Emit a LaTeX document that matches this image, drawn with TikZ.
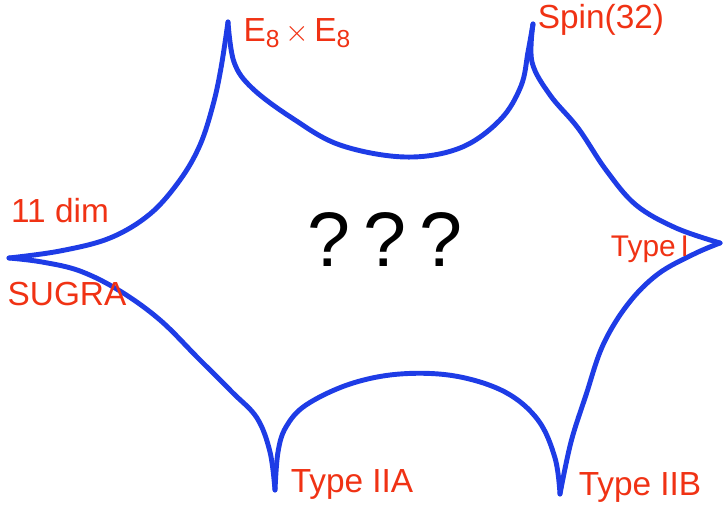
\documentclass[tikz,border=0pt]{standalone}
\usepackage{fontspec}
\setmainfont{Liberation Sans}
\usepackage{tikz}
\usetikzlibrary{positioning}

\definecolor{edgeblue}{RGB}{30,60,230}
\definecolor{labelred}{RGB}{240,50,20}

\newcommand{\eightsub}{{\fontsize{14}{14}\selectfont\raisebox{-0.45ex}{8}}}

\tikzset{
  edge/.style={draw=edgeblue, line width=2.8pt, line cap=round, line join=round},
  limit/.style={text=labelred, font=\fontsize{19}{22}\selectfont, inner sep=0pt},
}

\begin{document}
\begin{tikzpicture}[x=0.02cm, y=-0.02cm]
\useasboundingbox (0,0) rectangle (724,510);

% 1. The six cusps
\coordinate (EE) at (228,22);
\coordinate (SO) at (533,24);
\coordinate (TI) at (720,243);
\coordinate (IIB) at (560,494);
\coordinate (IIA) at (275,490);
\coordinate (M) at (9,258);

% 2. The concave edges between them
\draw[edge] plot[smooth, tension=0.6] coordinates {(EE) (234,62) (252,88) (292,118) (340,145) (405,157) (460,148) (500,120) (521,86) (528,52) (SO)};
\draw[edge] plot[smooth, tension=0.6] coordinates {(SO) (532,62) (550,95) (578,128) (606,170) (636,205) (676,228) (TI)};
\draw[edge] plot[smooth, tension=0.6] coordinates {(TI) (694,254) (658,274) (628,304) (603,345) (586,395) (571,442) (IIB)};
\draw[edge] plot[smooth, tension=0.6] coordinates {(IIB) (555,458) (538,420) (505,392) (455,376) (400,374) (350,384) (306,405) (286,427) (278,452) (IIA)};
\draw[edge] plot[smooth, tension=0.6] coordinates {(IIA) (270,452) (257,418) (232,392) (198,358) (160,320) (120,291) (80,271) (42,262) (M)};
\draw[edge] plot[smooth, tension=0.6] coordinates {(M) (60,251) (110,238) (150,214) (180,180) (200,145) (213,105) (221,68) (EE)};

% 3. Labels at the cusps
\node[limit] (lEE) at (297,33) {E\eightsub\,$\times$\,E\eightsub};
\node[limit] (lSO) at (601,20) {Spin(32)};
\node[limit] (lM) at (60,211) {11 dim};
\node[limit] (lSG) at (67,294) {SUGRA};
\node[limit, font=\fontsize{17}{20}\selectfont] (lTI) at (650,249) {Type\,I};
\node[limit] (lIIA) at (352,484) {Type IIA};
\node[limit] (lIIB) at (640,487) {Type IIB};

% 4. Unknown centre
\node[font=\fontsize{44}{50}\selectfont, inner sep=0pt] (mid) at (385,240) {?\,?\,?};

\end{tikzpicture}
\end{document}
